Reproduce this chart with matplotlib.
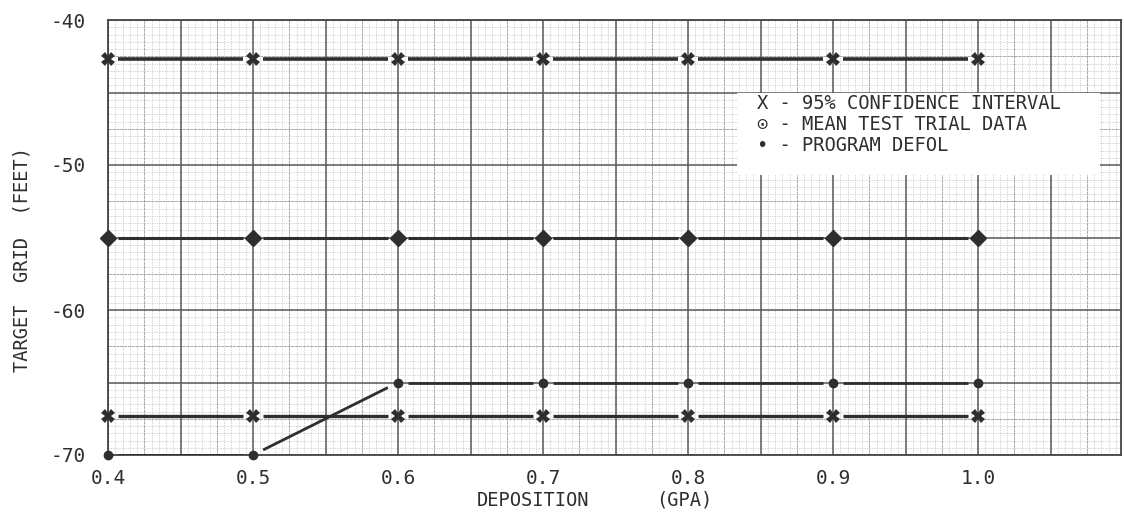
import numpy as np
import matplotlib.pyplot as plt

# data
deposition = [0.4, 0.5, 0.6, 0.7, 0.8, 0.9, 1.0]
ci_upper = [-42.7, -42.7, -42.7, -42.7, -42.7, -42.7, -42.7]
mean_trial = [-55.0, -55.0, -55.0, -55.0, -55.0, -55.0, -55.0]
ci_lower = [-67.3, -67.3, -67.3, -67.3, -67.3, -67.3, -67.3]
defol = [-70.0, -70.0, -65.0, -65.0, -65.0, -65.0, -65.0]

x_ticks = [0.4, 0.5, 0.6, 0.7, 0.8, 0.9, 1.0]
y_ticks = [-70, -60, -50, -40]
legend_lines = ["X - 95% CONFIDENCE INTERVAL",
                "\u2299 - MEAN TEST TRIAL DATA",
                "\u2022 - PROGRAM DEFOL"]

ink = "#2e2e2e"
mono = ["DejaVu Sans Mono", "DejaVu Sans"]

fig = plt.figure(figsize=(11.24, 5.15), dpi=100)
ax = fig.add_axes([108 / 1124, 1 - 455 / 515, 1013 / 1124, 435 / 515])
ax.set_xlim(0.4, 1.0986)
ax.set_ylim(-70, -40)

# graph paper
for v in np.arange(0.4, 1.1, 0.005):
    ax.axvline(v, color="#c6c6c6", lw=0.5, ls=(0, (2, 1.5)), zorder=0)
for v in np.arange(-70, -39.9, 0.5):
    ax.axhline(v, color="#c6c6c6", lw=0.5, ls=(0, (2, 1.5)), zorder=0)
for v in np.arange(0.425, 1.1, 0.05):
    ax.axvline(v, color="#a8a8a8", lw=0.7, ls=(0, (3, 1)), zorder=0.5)
for v in np.arange(-67.5, -40, 5):
    ax.axhline(v, color="#a8a8a8", lw=0.7, ls=(0, (3, 1)), zorder=0.5)
for v in np.arange(0.4, 1.1, 0.05):
    ax.axvline(v, color="#5a5a5a", lw=1.1, zorder=0.6)
for v in np.arange(-70, -39.9, 5):
    ax.axhline(v, color="#5a5a5a", lw=1.1, zorder=0.6)


def gapped(xs, ys, lw, gap=0.07):
    # connect points with short gaps next to each marker
    for i in range(len(xs) - 1):
        x0, x1 = xs[i], xs[i + 1]
        y0, y1 = ys[i], ys[i + 1]
        ax.plot([x0 + gap * (x1 - x0), x1 - gap * (x1 - x0)],
                [y0 + gap * (y1 - y0), y1 - gap * (y1 - y0)],
                color=ink, lw=lw, solid_capstyle="butt", zorder=3)


gapped(deposition, ci_upper, 2.6)
gapped(deposition, ci_lower, 2.4)
gapped(deposition, mean_trial, 2.2)
gapped(deposition, defol, 2.0)

ax.plot(deposition, ci_upper, ls="none", marker="X", ms=10, color=ink,
        markeredgewidth=0, zorder=4, clip_on=False)
ax.plot(deposition, ci_lower, ls="none", marker="X", ms=10, color=ink,
        markeredgewidth=0, zorder=4, clip_on=False)
ax.plot(deposition, mean_trial, ls="none", marker="D", ms=8, color=ink,
        zorder=4, clip_on=False)
ax.plot(deposition, defol, ls="none", marker="o", ms=6, color=ink,
        zorder=4, clip_on=False)

# legend box
ax.add_patch(plt.Rectangle((0.8338, -50.69), 0.25, 5.69, facecolor="white",
                           edgecolor="none", zorder=2))
for i, s in enumerate(legend_lines):
    ax.text(0.8475, -45.75 - i * 1.45, s, fontsize=13.5, family=mono,
            color=ink, va="center", ha="left", zorder=5)

ax.set_xticks(x_ticks)
ax.set_yticks(y_ticks)
ax.set_xticklabels([f"{v:.1f}" for v in x_ticks], family=mono, fontsize=14,
                   color=ink)
ax.set_yticklabels([str(v) for v in y_ticks], family=mono, fontsize=14,
                   color=ink)
ax.tick_params(length=0)
ax.tick_params(axis="x", pad=10)
ax.tick_params(axis="y", pad=16)
for sp in ax.spines.values():
    sp.set_color("#444444")
    sp.set_linewidth(1.3)

fig.text(533 / 1124, 1 - 500 / 515, "DEPOSITION", family=mono, fontsize=13.5,
         color=ink, ha="center", va="center")
fig.text(684 / 1124, 1 - 500 / 515, "(GPA)", family=mono, fontsize=13.5,
         color=ink, ha="center", va="center")
fig.text(22 / 1124, 1 - 260 / 515, "TARGET  GRID  (FEET)", family=mono,
         fontsize=13.5, color=ink, ha="center", va="center", rotation=90)

fig.savefig("out.png", dpi=100)
